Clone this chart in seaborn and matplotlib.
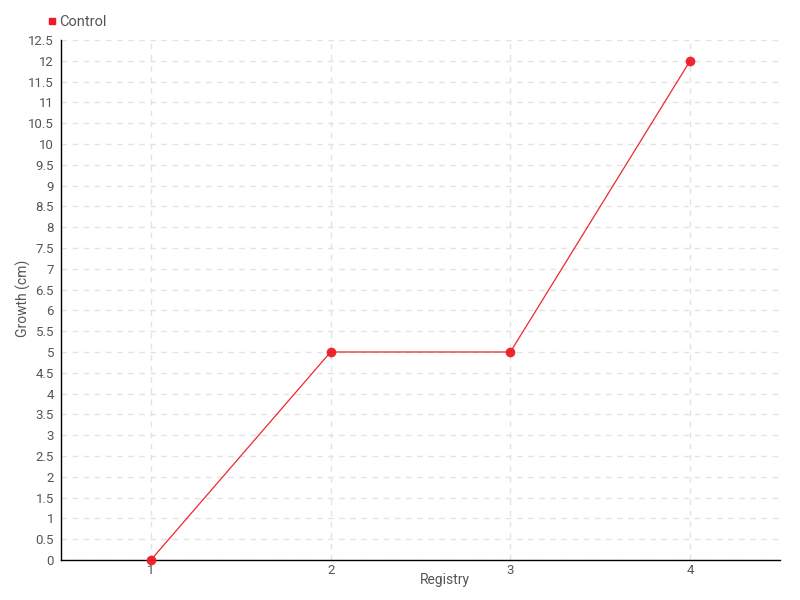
import matplotlib
matplotlib.use("Agg")
import matplotlib.pyplot as plt
import seaborn as sns
import pandas as pd
import numpy as np
from matplotlib.lines import Line2D

registry = [1, 2, 3, 4]
growth = [0, 5, 5, 12]
series_name = "Control"
y_ticks = [i * 0.5 for i in range(26)]

sns.set_style("white")
plt.rcParams['font.family'] = ['Roboto', 'DejaVu Sans']

df = pd.DataFrame({"Registry": registry, "Growth (cm)": growth})

fig = plt.figure(figsize=(8, 6), dpi=100)
ax = fig.add_axes([61/800, 1 - 560/600, (780 - 61)/800, (560 - 40)/600])

red = "#ee1c25"
sns.lineplot(data=df, x="Registry", y="Growth (cm)", ax=ax, color=red, linewidth=0.9,
             marker="o", markersize=7, markeredgewidth=0, alpha=0.95, clip_on=False, zorder=5)

ax.set_xlim(0.5, 4.5)
ax.set_ylim(0, 12.5)
ax.set_xticks(registry)
ax.set_xticklabels([str(r) for r in registry])
ax.set_yticks(y_ticks)
ax.set_yticklabels([f"{t:g}" for t in y_ticks])

txt = "#555555"
fs = 9.5
ax.tick_params(axis="x", direction="out", length=0, colors="#555555", labelsize=fs, pad=3)
ax.tick_params(axis="y", direction="out", length=4, width=1, colors="#333333", labelsize=fs, pad=1)
for lab in ax.get_xticklabels() + ax.get_yticklabels():
    lab.set_color(txt)

ax.grid(True, color="#e3e3e3", linestyle=(0, (4, 4)), linewidth=1)
ax.set_axisbelow(True)
for s in ["top", "right"]:
    ax.spines[s].set_visible(False)
for s in ["left", "bottom"]:
    ax.spines[s].set_color("black")
    ax.spines[s].set_linewidth(1)
    ax.spines[s].set_zorder(2)

ax.set_xlabel("Registry", color=txt, fontsize=10, va="center")
ax.set_ylabel("Growth (cm)", color=txt, fontsize=10, va="center")
ax.xaxis.set_label_coords((445 - 61) / 719, (560 - 580) / 520)
ax.yaxis.set_label_coords((23 - 61) / 719, (560 - 298) / 520)

handle = Line2D([], [], color=red, marker="s", linestyle="none", markersize=5)
leg = fig.legend([handle], [series_name], loc="center left", bbox_to_anchor=(46/800, 1 - 22/600),
                 frameon=False, fontsize=10.5, handletextpad=0.1, handlelength=0.8, borderaxespad=0,
                 borderpad=0)
for t in leg.get_texts():
    t.set_color(txt)

fig.savefig("out.png", dpi=100)
